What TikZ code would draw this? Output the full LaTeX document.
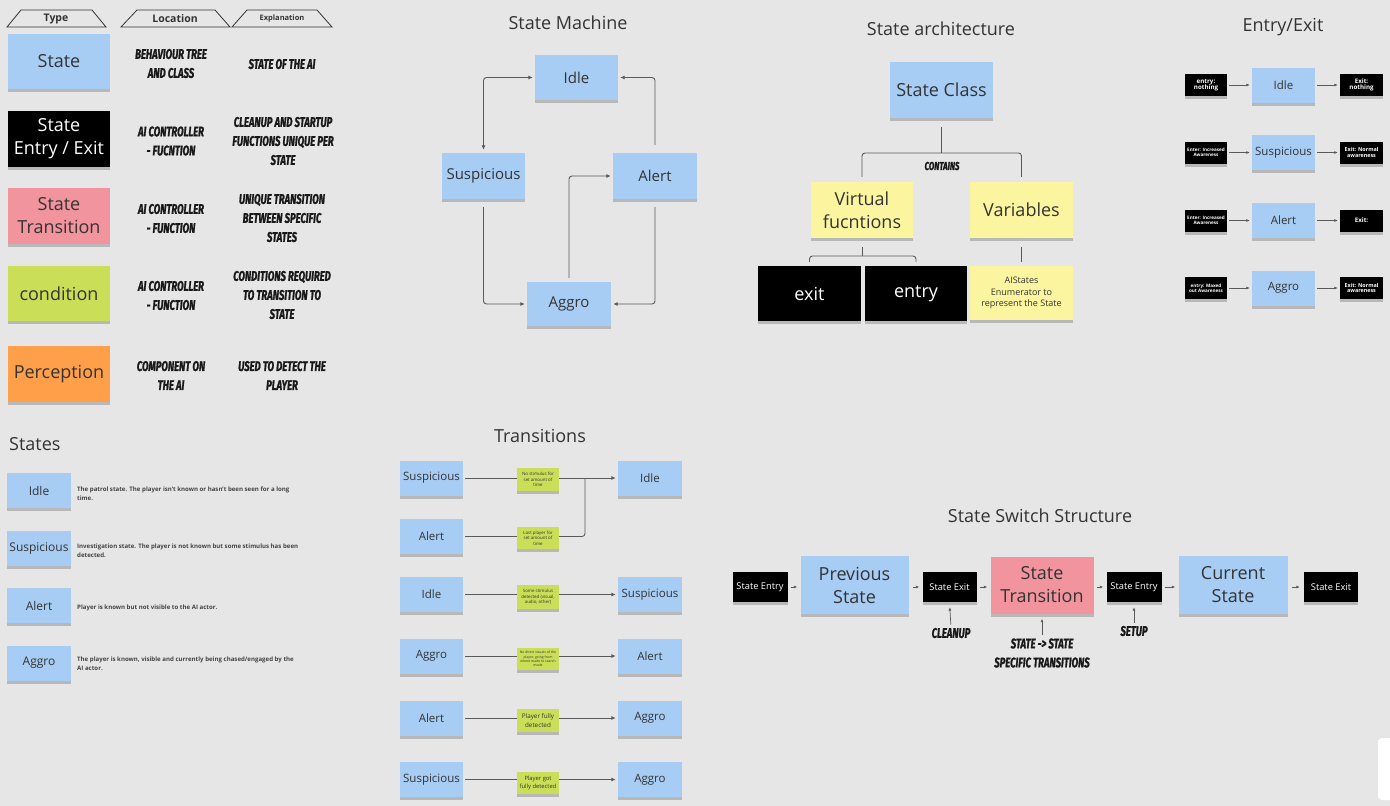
\documentclass[tikz,border=0pt]{standalone}
\usepackage{fontspec}
\setmainfont{Open Sans}
\newfontfamily\hand{Fira Sans}[FakeStretch=0.68, FakeBold=1.2]
\usetikzlibrary{shadows,arrows.meta}
\definecolor{bg}{HTML}{E6E6E6}
\definecolor{stblue}{HTML}{A7CDF4}
\definecolor{stpink}{HTML}{F1949E}
\definecolor{stlime}{HTML}{CADF57}
\definecolor{storange}{HTML}{FF9F4A}
\definecolor{styellow}{HTML}{FBF59F}
\definecolor{txt}{HTML}{333333}
\definecolor{ln}{HTML}{5A5A5A}
\definecolor{desc}{HTML}{444444}
\newcommand\fsXL{\fontsize{18}{23}\selectfont}
\newcommand\fsM{\fontsize{15}{19}\selectfont}
\newcommand\fsS{\fontsize{12}{15}\selectfont}
\newcommand\fsHW{\hand\bfseries\itshape\fontsize{14}{19}\selectfont}
\tikzset{
  sticky/.style={rectangle, inner sep=1pt, align=center, text=txt,
    general shadow={fill=black, opacity=0.2, shadow yshift=-3pt}},
  nblue/.style={sticky, fill=stblue},
  nblk/.style={sticky, fill=black, text=white},
  npink/.style={sticky, fill=stpink},
  nlime/.style={sticky, fill=stlime},
  norng/.style={sticky, fill=storange},
  nyel/.style={sticky, fill=styellow},
  hw/.style={font=\fsHW, text=black!90, align=center, inner sep=0pt},
  ttl/.style={font=\fsXL, text=txt},
  arr/.style={draw=ln, line width=0.9pt, -{Latex[length=4.5pt,width=4pt]}, rounded corners=3pt},
  arrb/.style={draw=ln, line width=0.9pt, {Latex[length=4.5pt,width=4pt]}-{Latex[length=4.5pt,width=4pt]}, rounded corners=3pt},
  conn/.style={draw=ln, line width=0.9pt, rounded corners=3pt},
  sarr/.style={draw=ln, line width=0.7pt, -{Latex[length=3.5pt,width=3pt]}},
  tline/.style={draw=ln, line width=0.9pt, rounded corners=3pt},
  desctxt/.style={font=\bfseries\fontsize{6.1}{9}\selectfont, text=desc, align=left, anchor=west, inner sep=0pt},
  tiny/.style={font=\fontsize{4.4}{5.4}\selectfont},
}
\begin{document}
\begin{tikzpicture}[x=1pt,y=-1pt]
\fill[bg] (0,0) rectangle (1390,806);
\useasboundingbox (0,0) rectangle (1390,806);
\fill[white, rounded corners=4pt] (1378,738) rectangle (1400,800);

% ---------------- Legend ----------------
\draw[line width=0.8pt, draw=black!80] (7,27) -- (21,10) -- (92,10) -- (106,27) -- cycle;
\node[font=\bfseries\fontsize{10.5}{12}\selectfont, text=txt] (hdType) at (56,19) {Type};
\draw[line width=0.8pt, draw=black!80] (121,27) -- (137,10) -- (215,10) -- (230,27) -- cycle;
\node[font=\bfseries\fontsize{10.5}{12}\selectfont, text=txt] (hdLoc) at (175,19) {Location};
\draw[line width=0.8pt, draw=black!80] (232,27) -- (247,10) -- (317,10) -- (332,27) -- cycle;
\node[font=\bfseries\fontsize{7.5}{9}\selectfont, text=txt] (hdExp) at (282,19) {Explanation};

\node[nblue, minimum width=102pt, minimum height=55pt, font=\fsXL] (lgState) at (59,61.5) {State};
\node[nblk, minimum width=102pt, minimum height=56pt, font=\fsXL] (lgEE) at (59,139) {State\\Entry / Exit};
\node[npink, minimum width=102pt, minimum height=56pt, font=\fsXL] (lgTr) at (59,216) {State\\Transition};
\node[nlime, minimum width=102pt, minimum height=55pt, font=\fsXL] (lgCond) at (59,293.5) {condition};
\node[norng, minimum width=102pt, minimum height=56pt, font=\fsXL] (lgPer) at (59,374) {Perception};

\node[hw] (lo1) at (171,63.5) {BEHAVIOUR TREE\\AND CLASS};
\node[hw] (ex1) at (282,64) {STATE OF THE AI};
\node[hw] (lo2) at (171,141) {AI CONTROLLER\\- FUCNTION};
\node[hw] (ex2) at (283,141) {CLEANUP AND STARTUP\\FUNCTIONS UNIQUE PER\\STATE};
\node[hw] (lo3) at (171,218.5) {AI CONTROLLER\\- FUNCTION};
\node[hw] (ex3) at (282,218) {UNIQUE TRANSITION\\BETWEEN SPECIFIC\\STATES};
\node[hw] (lo4) at (171,295.5) {AI CONTROLLER\\- FUNCTION};
\node[hw] (ex4) at (282,295) {CONDITIONS REQUIRED\\TO TRANSITION TO\\STATE};
\node[hw] (lo5) at (171,375.5) {COMPONENT ON\\THE AI};
\node[hw] (ex5) at (282,375.5) {USED TO DETECT THE\\PLAYER};

% ---------------- States list ----------------
\node[ttl, anchor=west, inner sep=0pt] (tStates) at (9,444) {States};
\node[nblue, minimum width=64pt, minimum height=35pt, font=\fsS] (stIdle) at (39,490.5) {Idle};
\node[nblue, minimum width=64pt, minimum height=35pt, font=\fsS] (stSusp) at (39,548.5) {Suspicious};
\node[nblue, minimum width=64pt, minimum height=35pt, font=\fsS] (stAlert) at (39,605.5) {Alert};
\node[nblue, minimum width=64pt, minimum height=35pt, font=\fsS] (stAggro) at (39,663) {Aggro};
\node[desctxt] (dIdle) at (77,493.5) {The patrol state. The player isn't known or hasn't been seen for a long\\time.};
\node[desctxt] (dSusp) at (77,550.5) {Investigation state. The player is not known but some stimulus has been\\detected.};
\node[desctxt] (dAlert) at (77,607.5) {Player is known but not visible to the AI actor.};
\node[desctxt] (dAggro) at (77,663.5) {The player is known, visible and currently being chased/engaged by the\\AI actor.};

% ---------------- State Machine ----------------
\node[ttl] (tSM) at (568,23) {State Machine};
\node[nblue, minimum width=83pt, minimum height=45pt, font=\fsM] (smIdle) at (576.5,77.5) {Idle};
\node[nblue, minimum width=83pt, minimum height=46pt, font=\fsM] (smSusp) at (483.5,176) {Suspicious};
\node[nblue, minimum width=84pt, minimum height=46pt, font=\fsM] (smAlert) at (655,176) {Alert};
\node[nblue, minimum width=84pt, minimum height=44pt, font=\fsM] (smAggro) at (569,304) {Aggro};
\draw[arrb, shorten >=3pt, shorten <=2pt] (smIdle.west) -| (smSusp.north);
\draw[arr, shorten <=8pt, shorten >=2pt] (smSusp.south) |- (smAggro.west);
\draw[arr, shorten <=4pt, shorten >=2pt] (smAggro.north) |- (smAlert.west);
\draw[arr, shorten <=8pt, shorten >=2pt] (smAlert.north) |- (smIdle.east);
\draw[arr, shorten <=8pt, shorten >=2pt] (smAlert.south) |- (smAggro.east);

% ---------------- State architecture ----------------
\node[ttl] (tSA) at (941,29) {State architecture};
\node[nblue, minimum width=103pt, minimum height=56pt, font=\fsXL] (saClass) at (941.5,90) {State Class};
\node[nyel, minimum width=102pt, minimum height=56pt, font=\fsXL] (saVirt) at (862,210) {Virtual\\fucntions};
\node[nyel, minimum width=103pt, minimum height=56pt, font=\fsXL] (saVar) at (1021.5,210) {Variables};
\node[nblk, minimum width=103pt, minimum height=55pt, font=\fsXL] (saExit) at (809.5,293.5) {exit};
\node[nblk, minimum width=102pt, minimum height=55pt, font=\fsXL] (saEntry) at (916,293.5) {entry};
\node[nyel, minimum width=103pt, minimum height=54pt, font=\fontsize{9}{11.5}\selectfont] (saEnum) at (1021.5,293) {AIStates\\Enumerator to\\represent the State};
\coordinate (saJ) at (941.5,153);
\coordinate (saJ2) at (862,256);
\draw[conn] ([yshift=-9pt]saClass.south) -- (saJ);
\draw[conn] ([yshift=5pt]saVirt.north) |- (saJ) -| ([yshift=5pt]saVar.north);
\node[hw, font=\hand\bfseries\itshape\fontsize{11.5}{13}\selectfont] (saContains) at (942,166) {CONTAINS};
\draw[conn] ([yshift=-9pt]saVirt.south) -- (saJ2);
\draw[conn] ([yshift=4pt]saExit.north) |- (saJ2) -| ([yshift=4pt]saEntry.north);
\draw[conn] ([yshift=-9pt]saVar.south) -- ([yshift=4pt]saEnum.north);

% ---------------- Entry/Exit ----------------
\node[ttl] (tEE) at (1283,27) {Entry/Exit};
\foreach \n/\y/\lab/\ent/\ex/\fs/\fx in {
  1/85/Idle/{entry:\\nothing}/{Exit:\\nothing}/6.2/6.2,
  2/152.5/Suspicious/{Enter: Increased\\Awareness}/{Exit: Normal\\awareness}/4.6/5.4,
  3/220.5/Alert/{Enter: Increased\\Awareness}/{Exit:}/4.6/6.2,
  4/288/Aggro/{entry: Maxed\\out Awareness}/{Exit: Normal\\awareness}/4.6/5.4}{
  \node[nblk, minimum width=42pt, minimum height=22pt, font=\bfseries\fontsize{\fs}{\fs}\selectfont] (eeIn\n) at (1206,\y) {\ent};
  \node[nblue, minimum width=63pt, minimum height=35pt, font=\fontsize{11.5}{14}\selectfont] (eeSt\n) at (1283.5,\y) {\lab};
  \node[nblk, minimum width=43pt, minimum height=22pt, font=\bfseries\fontsize{\fx}{\fx}\selectfont] (eeOut\n) at (1361.5,\y) {\ex};
  \draw[sarr, shorten <=2pt, shorten >=2pt] (eeIn\n) -- (eeSt\n);
  \draw[sarr, shorten <=2pt, shorten >=2pt] (eeSt\n) -- (eeOut\n);
}

% ---------------- Transitions ----------------
\node[ttl] (tTr) at (540,436) {Transitions};
\coordinate (trM) at (585,479);
\foreach \n/\y/\l in {1/478/Suspicious, 2/536.5/Alert, 3/594.5/Idle, 4/656/Aggro, 5/718/Alert, 6/779.5/Suspicious}{
  \node[nblue, minimum width=63pt, minimum height=35pt, font=\fontsize{11.5}{14}\selectfont] (trL\n) at (431.5,\y) {\l};
}
\foreach \n/\y/\r in {1/478/Idle, 3/594.5/Suspicious, 4/656/Alert, 5/718/Aggro, 6/779.5/Aggro}{
  \node[nblue, minimum width=64pt, minimum height=35pt, font=\fontsize{11.5}{14}\selectfont] (trR\n) at (650,\y) {\r};
}
\node[nlime, minimum width=42pt, minimum height=23pt, tiny] (trC1) at (538,479.5) {No stimulus for\\set amount of\\time};
\node[nlime, minimum width=42pt, minimum height=22pt, tiny] (trC2) at (538,538) {Lost player for\\set amount of\\time};
\node[nlime, minimum width=42pt, minimum height=24pt, tiny] (trC3) at (538,597) {Some stimulus\\detected (visual,\\audio, other)};
\node[nlime, minimum width=42pt, minimum height=22pt, font=\fontsize{3.4}{4.3}\selectfont] (trC4) at (538,659) {No direct visuals of the\\player, going from\\where made to search\\mode};
\node[nlime, minimum width=42pt, minimum height=23pt, font=\fontsize{6.3}{8.5}\selectfont] (trC5) at (538,720.5) {Player fully\\detected};
\node[nlime, minimum width=42pt, minimum height=22pt, font=\fontsize{5.8}{8}\selectfont] (trC6) at (538,783) {Player got\\fully detected};
\draw[tline, shorten <=2pt] (trL1.east) -- (trL1.east -| trC1.west);
\draw[arr, shorten >=2pt] (trL1.east -| trC1.east) -- (trR1.west);
\draw[tline, shorten <=2pt] (trL2.east) -- (trL2.east -| trC2.west);
\draw[tline] (trL2.east -| trC2.east) -| (trM);
\foreach \n in {3,4,5,6}{
  \draw[tline, shorten <=2pt] (trL\n.east) -- (trL\n.east -| trC\n.west);
  \draw[arr, shorten >=2pt] (trL\n.east -| trC\n.east) -- (trR\n.west);
}

% ---------------- State Switch Structure ----------------
\node[ttl] (tSS) at (1040,516) {State Switch Structure};
\node[nblk, minimum width=55pt, minimum height=30pt, font=\fontsize{9.3}{10}\selectfont] (ssEn1) at (760,587) {State Entry};
\node[nblue, minimum width=108pt, minimum height=58pt, font=\fsXL] (ssPrev) at (854.5,585) {Previous\\State};
\node[nblk, minimum width=54pt, minimum height=30pt, font=\fontsize{9.3}{10}\selectfont] (ssEx1) at (949.5,587) {State Exit};
\node[npink, minimum width=103pt, minimum height=57pt, font=\fsXL] (ssTr) at (1042,585) {State\\Transition};
\node[nblk, minimum width=55pt, minimum height=30pt, font=\fontsize{9.3}{10}\selectfont] (ssEn2) at (1134,587) {State Entry};
\node[nblue, minimum width=109pt, minimum height=58pt, font=\fsXL] (ssCur) at (1233,585) {Current\\State};
\node[nblk, minimum width=54pt, minimum height=30pt, font=\fontsize{9.3}{10}\selectfont] (ssEx2) at (1331,587) {State Exit};
\draw[sarr, shorten <=3pt, shorten >=3pt] (ssEn1.east) -- (ssEn1.east -| ssPrev.west);
\draw[sarr, shorten <=4pt, shorten >=3pt] (ssEx1.west -| ssPrev.east) -- (ssEx1.west);
\draw[sarr, shorten <=3pt, shorten >=3pt] (ssEx1.east) -- (ssEx1.east -| ssTr.west);
\draw[sarr, shorten <=3pt, shorten >=3pt] (ssEn2.west -| ssTr.east) -- (ssEn2.west);
\draw[sarr, shorten <=3pt, shorten >=3pt] (ssEn2.east) -- (ssEn2.east -| ssCur.west);
\draw[sarr, shorten <=4pt, shorten >=4pt] (ssEx2.west -| ssCur.east) -- (ssEx2.west);
\node[hw] (ssCleanup) at (951,633) {CLEANUP};
\node[hw] (ssSpec) at (1042,653) {STATE -> STATE\\SPECIFIC TRANSITIONS};
\node[hw] (ssSetup) at (1134,631) {SETUP};
\draw[sarr, shorten <=3pt, shorten >=5pt] (ssCleanup.north) -- (ssEx1.south);
\draw[sarr, shorten <=3pt, shorten >=5pt] (ssSpec.north) -- (ssTr.south);
\draw[sarr, shorten <=3pt, shorten >=5pt] (ssSetup.north) -- (ssEn2.south);
\end{tikzpicture}
\end{document}
